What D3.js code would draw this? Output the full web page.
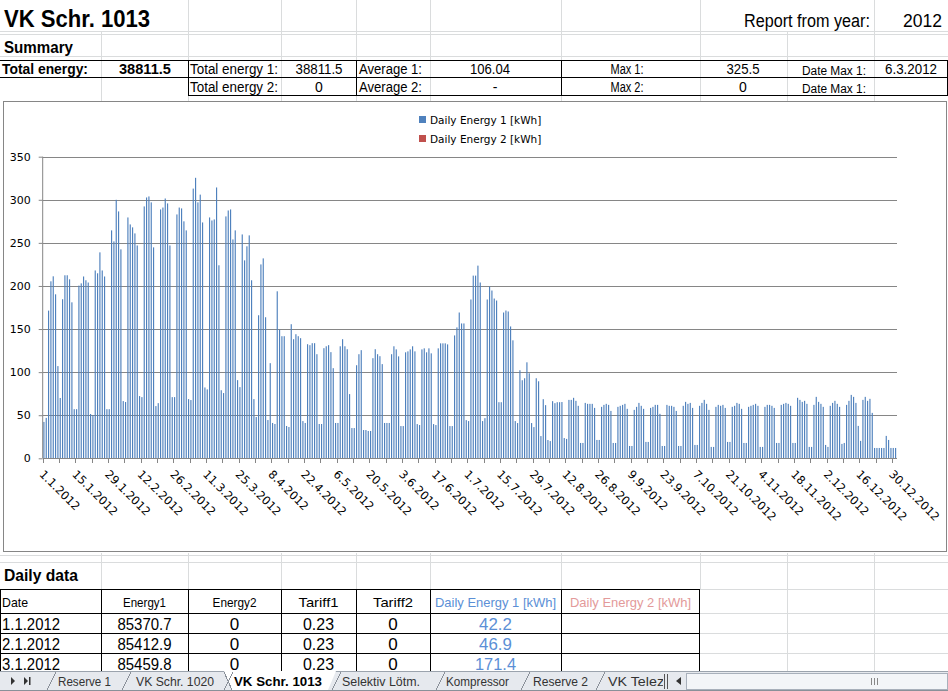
<!DOCTYPE html>
<html><head><meta charset="utf-8">
<script src="https://cdn.jsdelivr.net/npm/d3@7"></script>
<style>html,body{margin:0;padding:0;background:#fff;overflow:hidden}</style>
</head><body><svg id="c" width="948" height="691"></svg>
<script>
// ---------- DATA ----------
const dailyEnergy1 = [
42.2,46.9,171.4,205.4,211.2,190.3,107,70,184.6,212.4,212.4,207.7,181,57,57,200.4,203,211,206.6,204,51.4,50,218,214.7,239,218,211,57,57,264.5,
251.7,300,286.5,242.5,66.4,65.3,279.5,271.4,268,261,247,72.2,71,292.3,302.7,303.9,297,244.8,60.6,64,288.8,291,301.5,295.8,247,71,71,283,291,290,
275,264.5,68.7,67.6,313,325.5,297,306,273.7,82.2,80,279.5,276,277.2,314.3,224,79,75.7,280.7,287.6,288.8,254,264.5,90.7,82.6,259.8,229.7,246,258.7,206.6,
68.7,47.9,166,225,232,163.7,44.4,110.4,41,39.8,193.8,149.4,141.7,141.7,37.5,36.3,155.6,138.2,144,141.7,139.4,43.2,41,132.4,131.3,133.6,133.6,120.8,39.8,39.8,
127.8,130,131.3,123.2,104.6,41,41,130,138.2,130,126.6,74.5,35.1,35.1,108,120.8,125.5,32.8,32.8,31.7,31.7,116.2,126.6,120.8,118.5,109.3,41,41,41,120.8,
130,126.4,118.3,37.4,37.4,123,124.1,126.4,130,124.1,39.7,38.6,126.4,127.6,123,127.6,121.8,39.7,38.6,127.6,133.4,133.4,133.4,132.2,37.4,37.4,142.6,151.9,169.2,156.5,
156.5,44.3,43.2,184.3,212,212,223.6,204,43.2,46.6,184.3,199.3,194.7,185.4,183.1,65.1,65.1,169.2,171.5,170.4,153,136.9,43.2,40.9,102.2,90.6,92.9,111.4,98.7,40.9,
36.2,92.9,89.4,25.8,68.6,61.7,21.2,20,66.3,64,65.1,65.1,65.3,23.5,22.5,67.8,67.8,70.2,66.7,60.9,17.8,17.8,64.3,63.2,63.2,63.2,58.5,21.3,21.3,59.7,
62,63.2,62,55,17.8,17.8,59.7,60.9,62,63.2,57.4,14.3,14.3,56.2,59.7,64.3,60.9,57.4,19,19,58.5,59.7,62,62,51.6,14.3,14.3,62,60.9,60.9,
59.7,55,14.3,14.3,60.9,65.5,63.2,64.3,58.5,15.5,15.5,60.9,64.3,67.8,63.2,56.2,13.2,13.2,59.7,62,60.9,62,58.5,19,19,59.7,60.9,64.3,63.2,57.4,
17.8,17.8,59.7,60.9,62,63.2,60.9,13.2,13.2,59.7,62,62,60.9,58.5,17.8,17.8,62,63.2,64.3,63.2,60.9,17.8,17.8,70.2,67.8,65.5,66.7,63.2,13.2,13.2,
62,71.3,65.5,63.2,59.7,15.5,13.2,60.9,64.3,66.7,63.2,59.7,16.7,17.8,62,66.7,73.6,71.3,64.3,37.6,20.2,67.8,71.3,66.7,69,52.7,12,12,12,12,
12,26,21.3,12,12,12
];
const dailyEnergy2 = [];
const yTicks = [0,50,100,150,200,250,300,350];
const xTickLabels = ["1.1.2012","15.1.2012","29.1.2012","12.2.2012","26.2.2012","11.3.2012","25.3.2012","8.4.2012","22.4.2012","6.5.2012","20.5.2012","3.6.2012","17.6.2012","1.7.2012","15.7.2012","29.7.2012","12.8.2012","26.8.2012","9.9.2012","23.9.2012","7.10.2012","21.10.2012","4.11.2012","18.11.2012","2.12.2012","16.12.2012","30.12.2012"];
const seriesNames = ["Daily Energy 1 [kWh]","Daily Energy 2 [kWh]"];
const seriesColors = ["#4F81BD","#C0504D"];
const tableHeaders = ["Date","Energy1","Energy2","Tariff1","Tariff2","Daily Energy 1 [kWh]","Daily Energy 2 [kWh]"];
const tableDates = ["1.1.2012","2.1.2012","3.1.2012"];
const tableEnergy1 = ["85370.7","85412.9","85459.8"];
const tableEnergy2 = ["0","0","0"];
const tableTariff1 = ["0.23","0.23","0.23"];
const tableTariff2 = ["0","0","0"];
const tableDaily1 = ["42.2","46.9","171.4"];
const sheetTabs = ["Reserve 1","VK Schr. 1020","VK Schr. 1013","Selektiv Lötm.","Kompressor","Reserve 2","VK Telezt"];

// ---------- SETUP ----------
const svg = d3.select("#c");
const SF = "Liberation Sans, Arial, sans-serif";
const CF = "DejaVu Sans, Verdana, sans-serif";
function T(x, y, s, o = {}) {
  const t = svg.append("text").attr("x", x).attr("y", y).text(s)
    .attr("font-family", o.ff || SF).attr("font-size", o.size || 14)
    .attr("font-weight", o.bold ? "bold" : "normal")
    .attr("fill", o.fill || "#000").attr("text-anchor", o.anchor || "start");
  if (o.w) t.attr("textLength", o.w).attr("lengthAdjust", "spacingAndGlyphs");
  return t;
}
function L(x1, y1, x2, y2, c, w) {
  svg.append("line").attr("x1", x1).attr("y1", y1).attr("x2", x2).attr("y2", y2)
    .attr("stroke", c).attr("stroke-width", w || 1).attr("shape-rendering", "crispEdges");
}
const GC = "#dadcdd";
const cols = [0, 101, 188, 281, 356, 430, 561, 700, 787, 874, 948];

// ---------- SHEET GRIDLINES ----------
[31, 34, 56].forEach(y => L(0, y + 0.5, 948, y + 0.5, GC));
cols.slice(1, 10).forEach(x => {
  const top = (x === 101 || x === 787) ? 31 : 0;
  L(x + 0.5, top, x + 0.5, 101, GC);
});
[555, 562].forEach(y => L(0, y + 0.5, 948, y + 0.5, GC));
cols.slice(1, 10).forEach(x => L(x + 0.5, 553, x + 0.5, 589, GC));
[613, 633, 653].forEach(y => L(700, y + 0.5, 948, y + 0.5, GC));
L(0, 589.5, 948, 589.5, GC);
[787, 874].forEach(x => L(x + 0.5, 589, x + 0.5, 672, GC));

// ---------- HEADER ----------
T(4, 27, "VK Schr. 1013", { size: 24, bold: true, w: 146 });
T(744, 27, "Report from year:", { size: 18, w: 126 });
T(942, 27, "2012", { size: 18, anchor: "end", w: 39 });
T(4, 53, "Summary", { size: 16, bold: true, w: 69 });

// summary table
L(0, 60.5, 948, 60.5, "#000");
L(0, 77.5, 948, 77.5, "#000");
L(188, 95.5, 948, 95.5, "#000");
[188, 356, 561, 947].forEach(x => L(x + 0.5, 60, x + 0.5, 96, "#000"));
T(2, 74, "Total energy:", { size: 14, bold: true, w: 86 });
T(145, 74, "38811.5", { size: 14, bold: true, anchor: "middle", w: 52 });
T(190, 74, "Total energy 1:", { size: 14, w: 88 });
T(319, 74, "38811.5", { size: 14, anchor: "middle", w: 47 });
T(359, 74, "Average 1:", { size: 14, w: 63 });
T(490, 74, "106.04", { size: 14, anchor: "middle", w: 40 });
T(627, 74, "Max 1:", { size: 14, anchor: "middle", w: 33 });
T(743, 74, "325.5", { size: 14, anchor: "middle", w: 33 });
T(802, 75, "Date Max 1:", { size: 12, w: 64 });
T(911, 74, "6.3.2012", { size: 14, anchor: "middle", w: 52 });
T(190, 92, "Total energy 2:", { size: 14, w: 88 });
T(319, 92, "0", { size: 14, anchor: "middle" });
T(359, 92, "Average 2:", { size: 14, w: 63 });
T(495, 92, "-", { size: 14, anchor: "middle" });
T(627, 92, "Max 2:", { size: 14, anchor: "middle", w: 33 });
T(743, 92, "0", { size: 14, anchor: "middle" });
T(802, 93, "Date Max 1:", { size: 12, w: 64 });

// ---------- CHART ----------
svg.append("rect").attr("x", 3.5).attr("y", 101.5).attr("width", 943).attr("height", 450)
  .attr("fill", "#fff").attr("stroke", "#868686").attr("shape-rendering", "crispEdges");

const days = d3.timeDay.range(new Date(2012, 0, 1), new Date(2013, 0, 1));
const fmt = d3.timeFormat("%-d.%-m.%Y");
const x = d3.scaleBand().domain(days.map((d, i) => i)).range([42.7, 896.7]).paddingInner(0.55).paddingOuter(0.27);
const y = d3.scaleLinear().domain([0, 350]).range([458.3, 156.7]);
const step = x.step();
const x0 = x.range()[0];

svg.append("g").selectAll("line").data(yTicks.filter(v => v > 0)).join("line")
  .attr("x1", 42.7).attr("x2", 896.7).attr("y1", d => Math.round(y(d)) + 0.5).attr("y2", d => Math.round(y(d)) + 0.5)
  .attr("stroke", "#868686").attr("shape-rendering", "crispEdges");

svg.append("g").selectAll("rect").data(dailyEnergy1).join("rect")
  .attr("x", (d, i) => x(i)).attr("width", 1.15)
  .attr("y", d => y(d)).attr("height", d => y(0) - y(d))
  .attr("fill", seriesColors[0]);

const yAxis = d3.axisLeft(y).tickValues(yTicks).tickSize(4).tickPadding(8).tickFormat(d3.format("d"));
const gy = svg.append("g").attr("transform", "translate(42.7,0)").call(yAxis);
gy.select(".domain").attr("stroke", "#868686").attr("d", "M0," + y(0) + "V" + y(350));
gy.selectAll(".tick line").attr("stroke", "#868686");
gy.selectAll(".tick text").attr("font-family", CF).attr("font-size", 11).attr("fill", "#000");

const gx = svg.append("g");
gx.append("line").attr("x1", 42.7).attr("x2", 896.7).attr("y1", Math.round(y(0)) + 0.5).attr("y2", Math.round(y(0)) + 0.5)
  .attr("stroke", "#868686").attr("shape-rendering", "crispEdges");
const tickIdx = d3.range(0, 366, 7);
gx.selectAll("line.t").data(tickIdx).join("line").attr("class", "t")
  .attr("x1", d => Math.round(x0 + d * step) + 0.5).attr("x2", d => Math.round(x0 + d * step) + 0.5)
  .attr("y1", Math.round(y(0))).attr("y2", Math.round(y(0)) + 5)
  .attr("stroke", "#868686").attr("shape-rendering", "crispEdges");
const labIdx = xTickLabels.map(l => days.findIndex(d => fmt(d) === l));
gx.selectAll("text").data(labIdx).join("text")
  .attr("transform", d => `translate(${x0 + (d + 0.5) * step - 5},475) rotate(45)`)
  .attr("font-family", CF).attr("font-size", 11.5).attr("fill", "#000")
  .text((d, i) => xTickLabels[i]);

const lg = svg.append("g");
seriesNames.forEach((n, i) => {
  lg.append("rect").attr("x", 419).attr("y", 116 + i * 19).attr("width", 7).attr("height", 7).attr("fill", seriesColors[i]);
  lg.append("text").attr("x", 430).attr("y", 123.5 + i * 19).attr("font-family", CF).attr("font-size", 10.5)
    .attr("fill", "#000").text(n);
});

// ---------- DAILY DATA TABLE ----------
T(4, 581, "Daily data", { size: 16, bold: true, w: 74 });
[589, 613, 633, 653].forEach(yy => L(0, yy + 0.5, 700, yy + 0.5, "#000"));
[0, 101, 188, 281, 356, 430, 561, 699].forEach(xx => L(xx + 0.5, 589, xx + 0.5, 672, "#000"));
const cc = [null, 144.5, 234.5, 318.5, 393, 495.5, 630.5];
T(2, 607, tableHeaders[0], { size: 13, w: 26 });
T(cc[1], 607, tableHeaders[1], { size: 13, anchor: "middle", w: 43 });
T(cc[2], 607, tableHeaders[2], { size: 13, anchor: "middle", w: 44 });
T(cc[3], 607, tableHeaders[3], { size: 13, anchor: "middle", w: 40 });
T(cc[4], 607, tableHeaders[4], { size: 13, anchor: "middle", w: 40 });
T(cc[5], 607, tableHeaders[5], { size: 13, anchor: "middle", w: 121, fill: "#5b8fd6" });
T(cc[6], 607, tableHeaders[6], { size: 13, anchor: "middle", w: 121, fill: "#e39a9a" });
tableDates.forEach((d, i) => {
  const by = 630 + i * 20;
  T(2, by, d, { size: 17, w: 58 });
  T(cc[1], by, tableEnergy1[i], { size: 17, anchor: "middle", w: 54 });
  T(cc[2], by, tableEnergy2[i], { size: 17, anchor: "middle" });
  T(cc[3], by, tableTariff1[i], { size: 17, anchor: "middle", w: 31 });
  T(cc[4], by, tableTariff2[i], { size: 17, anchor: "middle" });
  T(cc[5], by, tableDaily1[i], { size: 17, anchor: "middle", fill: "#5b8fd6", w: tableDaily1[i].length * 8.2 });
});

// ---------- SHEET TABS ----------
svg.append("rect").attr("x", 0).attr("y", 671).attr("width", 948).attr("height", 20).attr("fill", "#e6e9ee");
L(0, 671.5, 948, 671.5, "#9ba3ad");
svg.append("path").attr("d", "M11,677 L15,681 L11,685 Z").attr("fill", "#333");
svg.append("path").attr("d", "M24,677 L28,681 L24,685 Z M29,677 h1.5 v8 h-1.5 Z").attr("fill", "#333");
const tabs = [[58, 113], [136, 214], [234, 322], [342, 421], [446, 509], [533, 589], [608, 670]];
svg.append("path").attr("d", "M224,671 L232,690 L328,690 L336,671 Z").attr("fill", "#fff");
[47, 122, 224, 332, 436, 521, 596].forEach(sx => L(sx, 690, sx + 9, 672, "#8a9099"));
L(224, 672, 232, 690, "#8a9099");
L(0, 690.5, 948, 690.5, "#8a9099");
sheetTabs.forEach((n, i) => {
  const active = i === 2;
  T(tabs[i][0], 686, n, { size: 13, bold: active, fill: active ? "#000" : "#333", w: [53, 78, 88, 78, 63, 55, 60][i] });
});
svg.append("rect").attr("x", 663).attr("y", 672).attr("width", 285).attr("height", 18).attr("fill", "#e6e9ee");
L(664.5, 674, 664.5, 689, "#555");
L(667.5, 674, 667.5, 689, "#555");
svg.append("path").attr("d", "M681,677 L676,681 L681,685 Z").attr("fill", "#333");
svg.append("rect").attr("x", 686.5).attr("y", 673.5).attr("width", 261).attr("height", 16).attr("fill", "#f3f5f8").attr("stroke", "#a8b0bb");
[871, 874, 877].forEach(xx => L(xx + 0.5, 678, xx + 0.5, 685, "#888"));
</script></body></html>
